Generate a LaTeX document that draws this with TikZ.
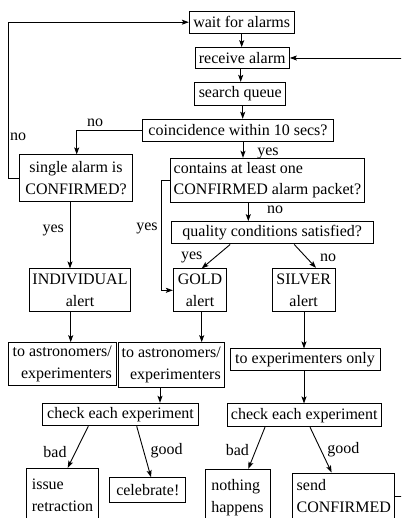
\documentclass[tikz,border=0pt]{standalone}
\usepackage{fontspec}
\setmainfont{Liberation Serif}
\usetikzlibrary{arrows.meta}
\begin{document}
\begin{tikzpicture}[x=1pt,y=-1pt,>={Stealth[length=7pt,width=5pt,inset=1.5pt]},line width=0.9pt]
  \tikzstyle{box}=[draw,line width=1pt,inner sep=0pt,inner xsep=3pt,
    font=\fontsize{16}{21.7}\selectfont,align=center]
  \tikzstyle{lbl}=[inner sep=0pt,font=\fontsize{16}{21.7}\selectfont]
  \clip (0,0) rectangle (401,518);
  % top column
  \node[box,minimum width=104.7pt,minimum height=22.3pt] (wait) at (241.7,22.2) {wait for alarms};
  \node[box,minimum width=94.3pt,minimum height=20.6pt] (receive) at (242.2,58) {receive alarm};
  \node[box,minimum width=90.7pt,minimum height=22.7pt] (search) at (240.3,93.7) {search queue};
  \node[box,minimum width=190.7pt,minimum height=22.4pt] (coinc) at (238,130.5) {coincidence within 10 secs?};
  % decisions
  \node[box,minimum width=113.3pt,minimum height=46.7pt] (single) at (76,178.3) {single alarm is\\CONFIRMED?};
  \node[box,align=left,minimum width=191.7pt,minimum height=44pt] (contains) at (267.5,180.3) {contains at least one\\CONFIRMED alarm packet?};
  \node[box,minimum width=202.3pt,minimum height=22.3pt] (quality) at (272.2,232.8) {quality conditions satisfied?};
  % alerts
  \node[box,minimum width=100pt,minimum height=42.7pt] (indiv) at (80,290.3) {INDIVIDUAL\\alert};
  \node[box,minimum width=53.3pt,minimum height=42.7pt] (gold) at (200,290.3) {GOLD\\alert};
  \node[box,minimum width=62.7pt,minimum height=43.3pt] (silver) at (303.7,290) {SILVER\\alert};
  % recipients
  \node[box,align=right,minimum width=107.7pt,minimum height=43pt] (astroA) at (62.2,364.2) {to astronomers/\\experimenters};
  \node[box,align=right,minimum width=105.7pt,minimum height=45pt] (astroB) at (171.2,365.2) {to astronomers/\\experimenters};
  \node[box,minimum width=150pt,minimum height=21.7pt] (exponly) at (305,359.8) {to experimenters only};
  \node[box,minimum width=155.6pt,minimum height=22.4pt] (checkA) at (120.5,414.5) {check each experiment};
  \node[box,minimum width=153.7pt,minimum height=22.7pt] (checkB) at (304.2,415.3) {check each experiment};
  % outcomes
  \node[box,align=left,minimum width=71.6pt,minimum height=54pt] (retract) at (62.5,495.3) {issue\\retraction};
  \node[box,minimum width=75.7pt,minimum height=25pt] (celebrate) at (147.8,490.2) {celebrate!};
  \node[box,align=left,minimum width=65pt,minimum height=56.4pt] (nothing) at (237.5,497.5) {nothing\\happens};
  \node[box,align=left,minimum width=102.3pt,minimum height=46.6pt] (send) at (343.8,496.3) {send\\CONFIRMED};
  % labels
  \node[lbl] (noA) at (95,123) {no};
  \node[lbl] (noLoop) at (18,137) {no};
  \node[lbl] (yesA) at (268,153) {yes};
  \node[lbl] (yesB) at (53.3,230) {yes};
  \node[lbl] (yesC) at (147,228) {yes};
  \node[lbl] (noB) at (275,210) {no};
  \node[lbl] (yesD) at (191.7,257.3) {yes};
  \node[lbl] (noC) at (328,258.3) {no};
  \node[lbl] (badA) at (55,451.7) {bad};
  \node[lbl] (goodA) at (166.7,451) {good};
  \node[lbl] (badB) at (237.3,450) {bad};
  \node[lbl] (goodB) at (343.3,450) {good};
  % connectors
  \draw[->] (wait.south) -- (wait.south |- receive.north);
  \draw[->] ([xshift=-1.5pt]receive.south) -- ([xshift=-1.5pt]receive.south |- search.north);
  \draw[->] ([xshift=2.4pt]search.south) -- ([xshift=2.4pt]search.south |- coinc.north);
  \draw[->] (coinc.west) -| ([xshift=0.7pt]single.north);
  \draw[->] (single.west) -- ++(-10,0) |- (wait.west);
  \draw[->] ([xshift=-6pt]single.south) -- ([xshift=-6pt]single.south |- indiv.north);
  \draw[->] ([xshift=5pt]coinc.south) -- ([xshift=5pt]coinc.south |- contains.north);
  \draw[->] (contains.west) -- ++(-9,0) |- (gold.west);
  \draw[->] ([xshift=-19.2pt]contains.south) -- ([xshift=-19.2pt]contains.south |- quality.north);
  \draw[->] ([xshift=-42pt]quality.south) -- ([xshift=1.7pt]gold.north);
  \draw[->] ([xshift=22pt]quality.south) -- ([xshift=12.3pt]silver.north);
  \draw[->] ([xshift=-9.3pt]indiv.south) -- ([xshift=-9.3pt]indiv.south |- astroA.north);
  \draw[->] ([xshift=1.7pt]gold.south) -- ([xshift=1.7pt]gold.south |- astroB.north);
  \draw[->] ([xshift=0.3pt]silver.south) -- ([xshift=0.3pt]silver.south |- exponly.north);
  \draw[->] ([xshift=-11.2pt]astroB.south) -- ([xshift=-11.2pt]astroB.south |- checkA.north);
  \draw[->] ([xshift=-1pt]exponly.south) -- ([xshift=-1pt]exponly.south |- checkB.north);
  \draw[->] ([xshift=-32.2pt]checkA.south) -- ([xshift=5.2pt]retract.north);
  \draw[->] ([xshift=16.2pt]checkA.south) -- ([xshift=3.2pt]celebrate.north);
  \draw[->] ([xshift=-39.2pt]checkB.south) -- ([xshift=10.8pt]nothing.north);
  \draw[->] ([xshift=5.8pt]checkB.south) -- ([xshift=-12.2pt]send.north);
  \draw[->] (send.east) -- ++(25,0) |- (receive.east);
\end{tikzpicture}
\end{document}
